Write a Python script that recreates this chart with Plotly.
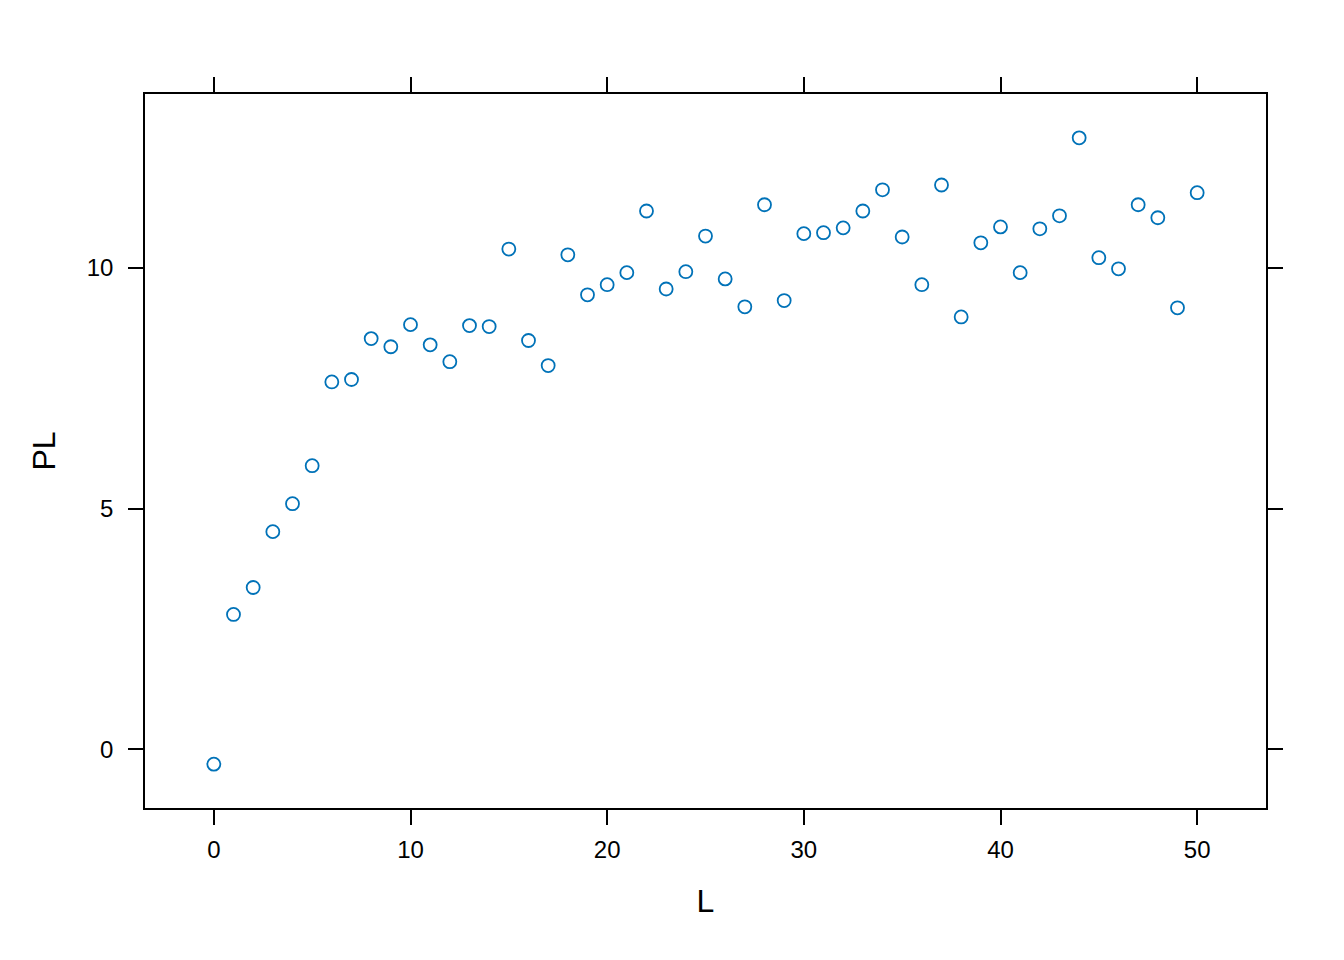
import plotly.graph_objects as go

L = list(range(0, 51))
PL = [-0.31, 2.80, 3.36, 4.52, 5.10, 5.89, 7.63, 7.68, 8.53, 8.36,
      8.82, 8.40, 8.05, 8.80, 8.78, 10.39, 8.49, 7.97, 10.27, 9.44,
      9.65, 9.90, 11.18, 9.56, 9.92, 10.66, 9.77, 9.19, 11.31, 9.32,
      10.71, 10.73, 10.83, 11.18, 11.62, 10.64, 9.65, 11.72, 8.98, 10.52,
      10.85, 9.90, 10.81, 11.08, 12.70, 10.21, 9.98, 11.31, 11.04, 9.17,
      11.56]
x_ticks = [0, 10, 20, 30, 40, 50]
y_ticks = [0, 5, 10]


def padded(vals, frac=0.07):
    lo, hi = min(vals), max(vals)
    d = (hi - lo) * frac
    return [lo - d, hi + d]


font = "Liberation Sans, Arial, Helvetica, sans-serif"

fig = go.Figure(go.Scatter(
    x=L, y=PL, mode="markers",
    marker=dict(symbol="circle-open", size=13, color="#0072B8",
                line=dict(width=1.8, color="#0072B8")),
    showlegend=False,
))

axis_common = dict(
    showline=True, linecolor="black", linewidth=1.5, mirror="ticks",
    ticks="outside", ticklen=15, tickwidth=1.5, tickcolor="black",
    showgrid=False, zeroline=False,
    tickfont=dict(family=font, size=24, color="black"),
)

fig.update_layout(
    width=1344, height=960,
    paper_bgcolor="white", plot_bgcolor="white",
    margin=dict(l=137, r=86, t=86, b=160),
    xaxis=dict(range=padded(L), tickvals=x_ticks, ticklabelstandoff=4,
               title=dict(text="L", font=dict(family=font, size=32, color="black"),
                          standoff=28),
               **axis_common),
    yaxis=dict(range=padded(PL), tickvals=y_ticks, ticklabelstandoff=10,
               title=dict(text="PL", font=dict(family=font, size=32, color="black"),
                          standoff=22),
               **axis_common),
    font=dict(family=font),
)

fig.write_html("out.html")
